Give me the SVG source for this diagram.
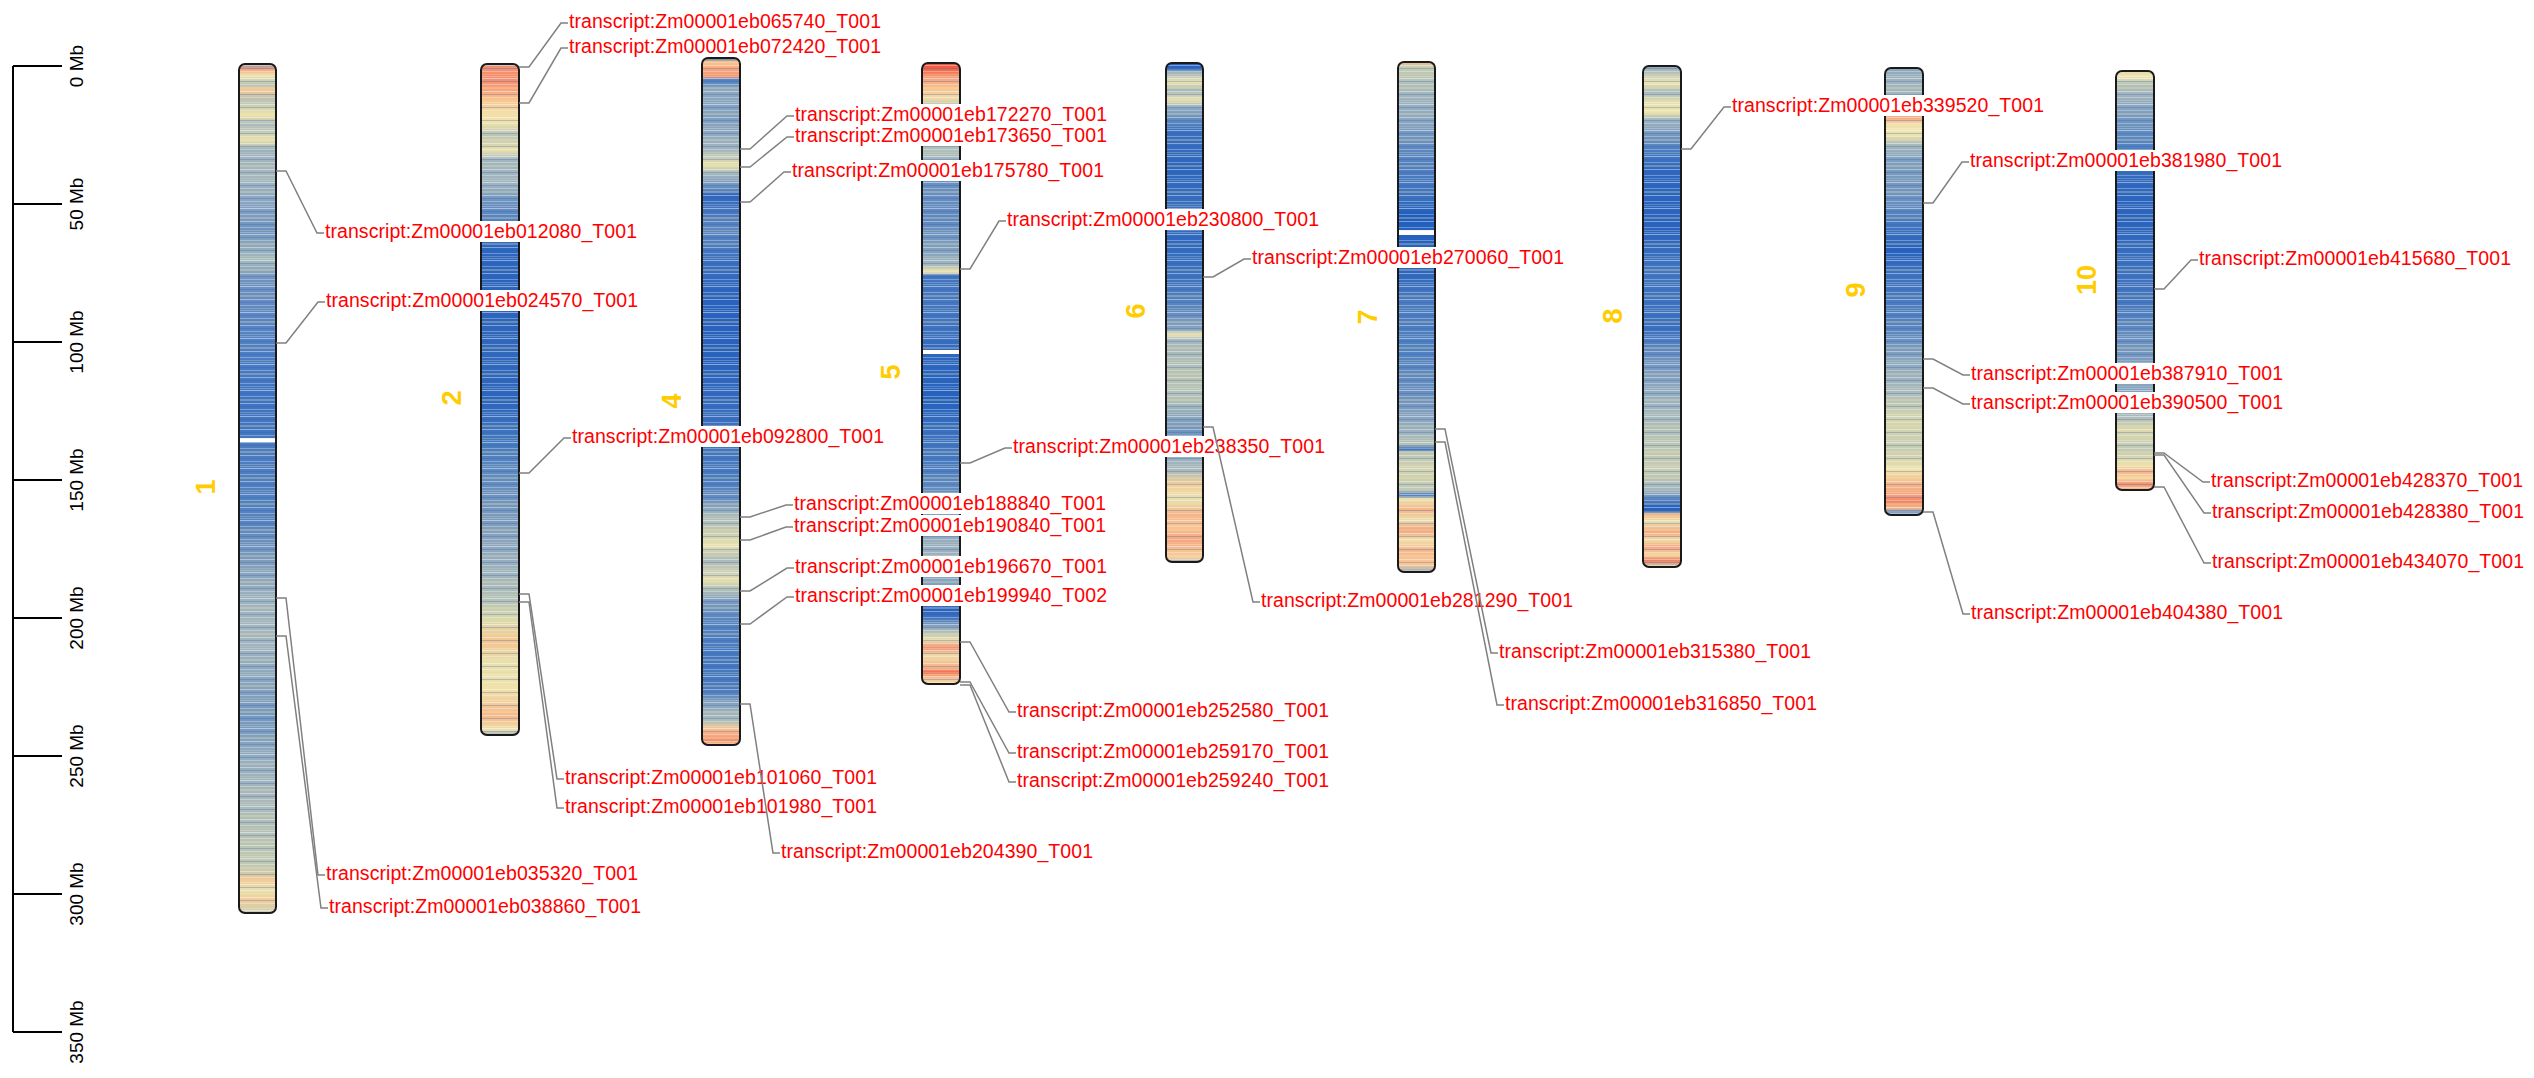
<svg xmlns="http://www.w3.org/2000/svg" width="2534" height="1078" viewBox="0 0 2534 1078">
<style>
.lbl{font-family:"Liberation Sans",Arial,sans-serif;font-size:19.5px;fill:#ff0000}
.box{fill:#ffffff}
.conn{fill:none;stroke:#808080;stroke-width:1.5}
.chrnum{font-family:"Liberation Sans",Arial,sans-serif;font-size:27px;font-weight:bold;fill:#ffcc00}
.axis{fill:none;stroke:#000;stroke-width:2}
.tick{font-family:"Liberation Sans",Arial,sans-serif;font-size:19px;fill:#000}
.outline{fill:none;stroke:#1a1a1a;stroke-width:2}
</style>
<defs>
<pattern id="stripes" patternUnits="userSpaceOnUse" x="0" y="0" width="40" height="26">
<rect y="0" width="40" height="1" fill="#fff" opacity="0.45"/>
<rect y="3" width="40" height="1" fill="#2a5fb5" opacity="0.3"/>
<rect y="6" width="40" height="1" fill="#fff" opacity="0.3"/>
<rect y="9" width="40" height="2" fill="#efe6ae" opacity="0.3"/>
<rect y="13" width="40" height="1" fill="#fff" opacity="0.4"/>
<rect y="16" width="40" height="1" fill="#3062b0" opacity="0.3"/>
<rect y="19" width="40" height="1" fill="#fff" opacity="0.3"/>
<rect y="22" width="40" height="1" fill="#dcd8b0" opacity="0.3"/>
<rect y="24" width="40" height="1" fill="#fff" opacity="0.25"/>
</pattern>
<linearGradient id="g1" gradientUnits="userSpaceOnUse" x1="0" y1="0" x2="0" y2="1000">
<stop offset="0.064" stop-color="#7f9ab8"/><stop offset="0.069" stop-color="#f7a07c"/><stop offset="0.075" stop-color="#f1e3ac"/><stop offset="0.085" stop-color="#b9c3b3"/><stop offset="0.090" stop-color="#f6c894"/><stop offset="0.100" stop-color="#b5c1b6"/><stop offset="0.115" stop-color="#eee3aa"/><stop offset="0.125" stop-color="#a9b9bd"/><stop offset="0.140" stop-color="#e9e2ae"/><stop offset="0.150" stop-color="#9cb1c0"/><stop offset="0.175" stop-color="#a8b9bc"/><stop offset="0.200" stop-color="#8aa6c2"/><stop offset="0.230" stop-color="#6f93c0"/><stop offset="0.260" stop-color="#a8bbbc"/><stop offset="0.280" stop-color="#6f92c0"/><stop offset="0.320" stop-color="#5a85c3"/><stop offset="0.360" stop-color="#4a7cc3"/><stop offset="0.400" stop-color="#3f73c2"/><stop offset="0.438" stop-color="#4477c0"/><stop offset="0.4385" stop-color="#ffffff"/><stop offset="0.4415" stop-color="#ffffff"/><stop offset="0.442" stop-color="#4a7bc0"/><stop offset="0.520" stop-color="#5583c0"/><stop offset="0.560" stop-color="#7d9bbd"/><stop offset="0.600" stop-color="#9fb3bf"/><stop offset="0.640" stop-color="#a4b6bd"/><stop offset="0.680" stop-color="#8aa5bf"/><stop offset="0.720" stop-color="#7397be"/><stop offset="0.760" stop-color="#95adbf"/><stop offset="0.800" stop-color="#a9b9bb"/><stop offset="0.840" stop-color="#b8c3b5"/><stop offset="0.870" stop-color="#c5cab0"/><stop offset="0.880" stop-color="#f4c996"/><stop offset="0.890" stop-color="#e7e1b0"/><stop offset="0.900" stop-color="#f3cc98"/><stop offset="0.913" stop-color="#c8cdb3"/>
</linearGradient>
<linearGradient id="g2" gradientUnits="userSpaceOnUse" x1="0" y1="0" x2="0" y2="1000">
<stop offset="0.064" stop-color="#8aa2b8"/><stop offset="0.067" stop-color="#f6906e"/><stop offset="0.080" stop-color="#f58f6f"/><stop offset="0.090" stop-color="#f8a47d"/><stop offset="0.100" stop-color="#fac58e"/><stop offset="0.112" stop-color="#f4dca6"/><stop offset="0.122" stop-color="#f0e3ab"/><stop offset="0.135" stop-color="#bac4b5"/><stop offset="0.150" stop-color="#e9e0ac"/><stop offset="0.160" stop-color="#a3b6bf"/><stop offset="0.185" stop-color="#9fb4bf"/><stop offset="0.200" stop-color="#6f95c0"/><stop offset="0.215" stop-color="#5b86c0"/><stop offset="0.245" stop-color="#2e67bf"/><stop offset="0.300" stop-color="#2a63bd"/><stop offset="0.350" stop-color="#3169bd"/><stop offset="0.400" stop-color="#2c65bd"/><stop offset="0.440" stop-color="#4378bf"/><stop offset="0.470" stop-color="#5d89c0"/><stop offset="0.520" stop-color="#7c9bbd"/><stop offset="0.560" stop-color="#95adbf"/><stop offset="0.600" stop-color="#b4c1b6"/><stop offset="0.620" stop-color="#dcdbac"/><stop offset="0.643" stop-color="#f4c48f"/><stop offset="0.660" stop-color="#e6dfad"/><stop offset="0.690" stop-color="#f0e1a9"/><stop offset="0.716" stop-color="#f6b88a"/><stop offset="0.730" stop-color="#efe2ac"/><stop offset="0.735" stop-color="#9fb4c3"/>
</linearGradient>
<linearGradient id="g4" gradientUnits="userSpaceOnUse" x1="0" y1="0" x2="0" y2="1000">
<stop offset="0.058" stop-color="#3c6fb8"/><stop offset="0.062" stop-color="#fbc490"/><stop offset="0.070" stop-color="#f8a27c"/><stop offset="0.076" stop-color="#f79a76"/><stop offset="0.080" stop-color="#4f7fbf"/><stop offset="0.090" stop-color="#8ea9c0"/><stop offset="0.120" stop-color="#7f9fc0"/><stop offset="0.150" stop-color="#a2b5bd"/><stop offset="0.165" stop-color="#e8e0ad"/><stop offset="0.175" stop-color="#9db2bf"/><stop offset="0.190" stop-color="#5a85c0"/><stop offset="0.195" stop-color="#2e65bf"/><stop offset="0.230" stop-color="#5e88c0"/><stop offset="0.260" stop-color="#3a70c0"/><stop offset="0.300" stop-color="#2a63bf"/><stop offset="0.360" stop-color="#2863be"/><stop offset="0.420" stop-color="#3a6fc0"/><stop offset="0.480" stop-color="#4a7cc0"/><stop offset="0.500" stop-color="#6a90c0"/><stop offset="0.515" stop-color="#a9b9ba"/><stop offset="0.530" stop-color="#c2c9b2"/><stop offset="0.545" stop-color="#e9e1ad"/><stop offset="0.560" stop-color="#a9b8bb"/><stop offset="0.580" stop-color="#e3deae"/><stop offset="0.600" stop-color="#7f9ebf"/><stop offset="0.620" stop-color="#5985c0"/><stop offset="0.660" stop-color="#4477c0"/><stop offset="0.690" stop-color="#4a7bc0"/><stop offset="0.705" stop-color="#8aa6bf"/><stop offset="0.722" stop-color="#b1bfb8"/><stop offset="0.728" stop-color="#f7c390"/><stop offset="0.735" stop-color="#f7a880"/><stop offset="0.741" stop-color="#f08c6c"/><stop offset="0.745" stop-color="#f3e3ad"/>
</linearGradient>
<linearGradient id="g5" gradientUnits="userSpaceOnUse" x1="0" y1="0" x2="0" y2="1000">
<stop offset="0.063" stop-color="#ee4d3b"/><stop offset="0.070" stop-color="#f26a4b"/><stop offset="0.078" stop-color="#f7a07b"/><stop offset="0.088" stop-color="#f9c08c"/><stop offset="0.098" stop-color="#f2dca7"/><stop offset="0.105" stop-color="#bcc6b4"/><stop offset="0.130" stop-color="#a5b7bd"/><stop offset="0.150" stop-color="#b2c0b8"/><stop offset="0.165" stop-color="#96adc0"/><stop offset="0.180" stop-color="#6d92c0"/><stop offset="0.220" stop-color="#5d88c0"/><stop offset="0.255" stop-color="#8aa6bf"/><stop offset="0.265" stop-color="#a9b9ba"/><stop offset="0.272" stop-color="#f0e6b0"/><stop offset="0.276" stop-color="#3f74c0"/><stop offset="0.300" stop-color="#4779c0"/><stop offset="0.340" stop-color="#3a70c0"/><stop offset="0.350" stop-color="#2e68c0"/><stop offset="0.3505" stop-color="#ffffff"/><stop offset="0.3535" stop-color="#ffffff"/><stop offset="0.354" stop-color="#2e68c0"/><stop offset="0.400" stop-color="#2462bf"/><stop offset="0.430" stop-color="#3a70c0"/><stop offset="0.470" stop-color="#4d7ec0"/><stop offset="0.520" stop-color="#8aa5bf"/><stop offset="0.560" stop-color="#9fb3be"/><stop offset="0.590" stop-color="#7a9bbf"/><stop offset="0.610" stop-color="#2862c0"/><stop offset="0.618" stop-color="#3f74bf"/><stop offset="0.630" stop-color="#a5b6bc"/><stop offset="0.640" stop-color="#e9e0ac"/><stop offset="0.648" stop-color="#f38d6f"/><stop offset="0.655" stop-color="#f0dba6"/><stop offset="0.668" stop-color="#f6b185"/><stop offset="0.672" stop-color="#f06e52"/><stop offset="0.678" stop-color="#f9c28e"/><stop offset="0.684" stop-color="#f3dfaa"/>
</linearGradient>
<linearGradient id="g6" gradientUnits="userSpaceOnUse" x1="0" y1="0" x2="0" y2="1000">
<stop offset="0.063" stop-color="#1e5cbd"/><stop offset="0.068" stop-color="#2e66bd"/><stop offset="0.072" stop-color="#9bb1bf"/><stop offset="0.082" stop-color="#eee4ac"/><stop offset="0.090" stop-color="#a4b7bd"/><stop offset="0.100" stop-color="#e9e1ae"/><stop offset="0.108" stop-color="#8ea9c0"/><stop offset="0.130" stop-color="#3a70bf"/><stop offset="0.170" stop-color="#2c66be"/><stop offset="0.210" stop-color="#3b71bf"/><stop offset="0.240" stop-color="#2e68c0"/><stop offset="0.280" stop-color="#3f74bf"/><stop offset="0.310" stop-color="#5d88bf"/><stop offset="0.330" stop-color="#8ba6bf"/><stop offset="0.334" stop-color="#eee6b2"/><stop offset="0.340" stop-color="#a6b7bb"/><stop offset="0.380" stop-color="#b8c3b4"/><stop offset="0.400" stop-color="#b0bfb8"/><stop offset="0.430" stop-color="#6e93be"/><stop offset="0.450" stop-color="#8da8bf"/><stop offset="0.470" stop-color="#a9b9bb"/><stop offset="0.485" stop-color="#f4cf9a"/><stop offset="0.500" stop-color="#e8e0ae"/><stop offset="0.515" stop-color="#f6b386"/><stop offset="0.525" stop-color="#f9c694"/><stop offset="0.540" stop-color="#f6a57e"/><stop offset="0.550" stop-color="#f8c18f"/><stop offset="0.558" stop-color="#f9cfa0"/><stop offset="0.562" stop-color="#7a9bc2"/>
</linearGradient>
<linearGradient id="g7" gradientUnits="userSpaceOnUse" x1="0" y1="0" x2="0" y2="1000">
<stop offset="0.062" stop-color="#f6b186"/><stop offset="0.066" stop-color="#c9cdb1"/><stop offset="0.080" stop-color="#b6c2b6"/><stop offset="0.095" stop-color="#a2b5bd"/><stop offset="0.120" stop-color="#8ba6c0"/><stop offset="0.150" stop-color="#5d88c0"/><stop offset="0.200" stop-color="#3a70c0"/><stop offset="0.215" stop-color="#1e5dbe"/><stop offset="0.230" stop-color="#2462bf"/><stop offset="0.2305" stop-color="#ffffff"/><stop offset="0.2345" stop-color="#ffffff"/><stop offset="0.235" stop-color="#2462bf"/><stop offset="0.270" stop-color="#2b65bf"/><stop offset="0.300" stop-color="#4a7bc0"/><stop offset="0.350" stop-color="#4f80c0"/><stop offset="0.400" stop-color="#7093bf"/><stop offset="0.430" stop-color="#9ab0bf"/><stop offset="0.445" stop-color="#b8c3b6"/><stop offset="0.449" stop-color="#2c66bf"/><stop offset="0.452" stop-color="#b8c3b5"/><stop offset="0.470" stop-color="#d4d5ae"/><stop offset="0.490" stop-color="#c0c8b4"/><stop offset="0.495" stop-color="#3c71bf"/><stop offset="0.498" stop-color="#eae3b0"/><stop offset="0.510" stop-color="#f6b486"/><stop offset="0.520" stop-color="#e9e0ac"/><stop offset="0.530" stop-color="#f4a37d"/><stop offset="0.540" stop-color="#f1dfa9"/><stop offset="0.550" stop-color="#f7b78a"/><stop offset="0.565" stop-color="#f9c796"/><stop offset="0.572" stop-color="#8ba6c0"/>
</linearGradient>
<linearGradient id="g8" gradientUnits="userSpaceOnUse" x1="0" y1="0" x2="0" y2="1000">
<stop offset="0.066" stop-color="#8fa6bd"/><stop offset="0.072" stop-color="#b2bfb8"/><stop offset="0.083" stop-color="#eee5ae"/><stop offset="0.092" stop-color="#a5b7bd"/><stop offset="0.102" stop-color="#e6e0ae"/><stop offset="0.112" stop-color="#ece3ad"/><stop offset="0.120" stop-color="#9fb3bf"/><stop offset="0.150" stop-color="#4a7cc0"/><stop offset="0.170" stop-color="#2e67bf"/><stop offset="0.230" stop-color="#2a63bf"/><stop offset="0.270" stop-color="#4276c0"/><stop offset="0.330" stop-color="#3a70c0"/><stop offset="0.360" stop-color="#6f93c0"/><stop offset="0.400" stop-color="#9bb1bf"/><stop offset="0.440" stop-color="#b9c4b5"/><stop offset="0.470" stop-color="#c8ccb1"/><stop offset="0.490" stop-color="#a3b6bd"/><stop offset="0.505" stop-color="#2c66bf"/><stop offset="0.510" stop-color="#2260bf"/><stop offset="0.515" stop-color="#f9c08c"/><stop offset="0.522" stop-color="#e6dfac"/><stop offset="0.532" stop-color="#f6a882"/><stop offset="0.540" stop-color="#f0ddaa"/><stop offset="0.547" stop-color="#f7a37d"/><stop offset="0.555" stop-color="#f3d8a4"/><stop offset="0.560" stop-color="#f07b5e"/><stop offset="0.567" stop-color="#d0d3b3"/>
</linearGradient>
<linearGradient id="g9" gradientUnits="userSpaceOnUse" x1="0" y1="0" x2="0" y2="1000">
<stop offset="0.068" stop-color="#8aa4bf"/><stop offset="0.078" stop-color="#9eb2be"/><stop offset="0.095" stop-color="#a3b6bd"/><stop offset="0.110" stop-color="#f8c794"/><stop offset="0.118" stop-color="#f7a883"/><stop offset="0.125" stop-color="#f1e3ab"/><stop offset="0.135" stop-color="#eee3ab"/><stop offset="0.145" stop-color="#a7b8bc"/><stop offset="0.160" stop-color="#7f9fc0"/><stop offset="0.200" stop-color="#6c92c0"/><stop offset="0.230" stop-color="#3b71c0"/><stop offset="0.250" stop-color="#2561bf"/><stop offset="0.270" stop-color="#3a70c0"/><stop offset="0.330" stop-color="#5a86c0"/><stop offset="0.360" stop-color="#8aa6bf"/><stop offset="0.390" stop-color="#a8b9bb"/><stop offset="0.420" stop-color="#d6d6ae"/><stop offset="0.450" stop-color="#c6cbb2"/><stop offset="0.470" stop-color="#efe3ab"/><stop offset="0.485" stop-color="#f7b488"/><stop offset="0.495" stop-color="#f6a17c"/><stop offset="0.502" stop-color="#f28462"/><stop offset="0.508" stop-color="#f7b98b"/><stop offset="0.512" stop-color="#80a0c6"/><stop offset="0.515" stop-color="#80a0c6"/>
</linearGradient>
<linearGradient id="g10" gradientUnits="userSpaceOnUse" x1="0" y1="0" x2="0" y2="1000">
<stop offset="0.071" stop-color="#ddd7ae"/><stop offset="0.076" stop-color="#f2e6b0"/><stop offset="0.085" stop-color="#b3c0b7"/><stop offset="0.095" stop-color="#a1b4be"/><stop offset="0.115" stop-color="#7a9bc0"/><stop offset="0.140" stop-color="#5886c0"/><stop offset="0.180" stop-color="#2f68bf"/><stop offset="0.220" stop-color="#2a64bf"/><stop offset="0.260" stop-color="#3a70c0"/><stop offset="0.300" stop-color="#4577c0"/><stop offset="0.340" stop-color="#6990c0"/><stop offset="0.380" stop-color="#8ca7bf"/><stop offset="0.395" stop-color="#7f9fc0"/><stop offset="0.415" stop-color="#a8b8bb"/><stop offset="0.430" stop-color="#dcd9ad"/><stop offset="0.450" stop-color="#c1c8b3"/><stop offset="0.465" stop-color="#eee2ab"/><stop offset="0.472" stop-color="#f7b487"/><stop offset="0.478" stop-color="#f6d9a2"/><stop offset="0.484" stop-color="#f3906f"/><stop offset="0.490" stop-color="#f7c896"/>
</linearGradient>
</defs>
<rect width="2534" height="1078" fill="#ffffff"/>
<g id="scale-axis">
<path class="axis" d="M13 66V1032M13 66H62M13 204H62M13 342H62M13 480H62M13 618H62M13 756H62M13 894H62M13 1032H62"/>
<text class="tick" text-anchor="middle" transform="translate(83,66) rotate(-90)">0 Mb</text>
<text class="tick" text-anchor="middle" transform="translate(83,204) rotate(-90)">50 Mb</text>
<text class="tick" text-anchor="middle" transform="translate(83,342) rotate(-90)">100 Mb</text>
<text class="tick" text-anchor="middle" transform="translate(83,480) rotate(-90)">150 Mb</text>
<text class="tick" text-anchor="middle" transform="translate(83,618) rotate(-90)">200 Mb</text>
<text class="tick" text-anchor="middle" transform="translate(83,756) rotate(-90)">250 Mb</text>
<text class="tick" text-anchor="middle" transform="translate(83,894) rotate(-90)">300 Mb</text>
<text class="tick" text-anchor="middle" transform="translate(83,1032) rotate(-90)">350 Mb</text>
</g>
<g id="chr1">
<rect x="239" y="64" width="37" height="849" rx="6" fill="url(#g1)"/>
<rect x="239" y="64" width="37" height="849" rx="6" fill="url(#stripes)"/>
<rect class="outline" x="239" y="64" width="37" height="849" rx="6"/>
<text class="chrnum" text-anchor="middle" transform="translate(215,487) rotate(-90)">1</text>
</g>
<g id="chr2">
<rect x="481" y="64" width="38" height="671" rx="6" fill="url(#g2)"/>
<rect x="481" y="64" width="38" height="671" rx="6" fill="url(#stripes)"/>
<rect class="outline" x="481" y="64" width="38" height="671" rx="6"/>
<text class="chrnum" text-anchor="middle" transform="translate(461,398) rotate(-90)">2</text>
</g>
<g id="chr4">
<rect x="702" y="58" width="38" height="687" rx="6" fill="url(#g4)"/>
<rect x="702" y="58" width="38" height="687" rx="6" fill="url(#stripes)"/>
<rect class="outline" x="702" y="58" width="38" height="687" rx="6"/>
<text class="chrnum" text-anchor="middle" transform="translate(681,401) rotate(-90)">4</text>
</g>
<g id="chr5">
<rect x="922" y="63" width="38" height="621" rx="6" fill="url(#g5)"/>
<rect x="922" y="63" width="38" height="621" rx="6" fill="url(#stripes)"/>
<rect class="outline" x="922" y="63" width="38" height="621" rx="6"/>
<text class="chrnum" text-anchor="middle" transform="translate(900,372) rotate(-90)">5</text>
</g>
<g id="chr6">
<rect x="1166" y="63" width="37" height="499" rx="6" fill="url(#g6)"/>
<rect x="1166" y="63" width="37" height="499" rx="6" fill="url(#stripes)"/>
<rect class="outline" x="1166" y="63" width="37" height="499" rx="6"/>
<text class="chrnum" text-anchor="middle" transform="translate(1145,311) rotate(-90)">6</text>
</g>
<g id="chr7">
<rect x="1398" y="62" width="37" height="510" rx="6" fill="url(#g7)"/>
<rect x="1398" y="62" width="37" height="510" rx="6" fill="url(#stripes)"/>
<rect class="outline" x="1398" y="62" width="37" height="510" rx="6"/>
<text class="chrnum" text-anchor="middle" transform="translate(1377,317) rotate(-90)">7</text>
</g>
<g id="chr8">
<rect x="1643" y="66" width="38" height="501" rx="6" fill="url(#g8)"/>
<rect x="1643" y="66" width="38" height="501" rx="6" fill="url(#stripes)"/>
<rect class="outline" x="1643" y="66" width="38" height="501" rx="6"/>
<text class="chrnum" text-anchor="middle" transform="translate(1622,316) rotate(-90)">8</text>
</g>
<g id="chr9">
<rect x="1885" y="68" width="38" height="447" rx="6" fill="url(#g9)"/>
<rect x="1885" y="68" width="38" height="447" rx="6" fill="url(#stripes)"/>
<rect class="outline" x="1885" y="68" width="38" height="447" rx="6"/>
<text class="chrnum" text-anchor="middle" transform="translate(1865,290) rotate(-90)">9</text>
</g>
<g id="chr10">
<rect x="2116" y="71" width="38" height="419" rx="6" fill="url(#g10)"/>
<rect x="2116" y="71" width="38" height="419" rx="6" fill="url(#stripes)"/>
<rect class="outline" x="2116" y="71" width="38" height="419" rx="6"/>
<text class="chrnum" text-anchor="middle" transform="translate(2096,280) rotate(-90)">10</text>
</g>
<g id="labels">
<g id="lbl-012080"><rect class="box" x="324" y="221" width="315" height="21"/><text class="lbl" x="325" y="238" textLength="312" lengthAdjust="spacing">transcript:Zm00001eb012080_T001</text></g>
<g id="lbl-024570"><rect class="box" x="325" y="290" width="315" height="21"/><text class="lbl" x="326" y="307" textLength="312" lengthAdjust="spacing">transcript:Zm00001eb024570_T001</text></g>
<g id="lbl-035320"><rect class="box" x="325" y="863" width="315" height="21"/><text class="lbl" x="326" y="880" textLength="312" lengthAdjust="spacing">transcript:Zm00001eb035320_T001</text></g>
<g id="lbl-038860"><rect class="box" x="328" y="896" width="315" height="21"/><text class="lbl" x="329" y="913" textLength="312" lengthAdjust="spacing">transcript:Zm00001eb038860_T001</text></g>
<g id="lbl-065740"><rect class="box" x="568" y="11" width="315" height="21"/><text class="lbl" x="569" y="28" textLength="312" lengthAdjust="spacing">transcript:Zm00001eb065740_T001</text></g>
<g id="lbl-072420"><rect class="box" x="568" y="36" width="315" height="21"/><text class="lbl" x="569" y="53" textLength="312" lengthAdjust="spacing">transcript:Zm00001eb072420_T001</text></g>
<g id="lbl-092800"><rect class="box" x="571" y="426" width="315" height="21"/><text class="lbl" x="572" y="443" textLength="312" lengthAdjust="spacing">transcript:Zm00001eb092800_T001</text></g>
<g id="lbl-101060"><rect class="box" x="564" y="767" width="315" height="21"/><text class="lbl" x="565" y="784" textLength="312" lengthAdjust="spacing">transcript:Zm00001eb101060_T001</text></g>
<g id="lbl-101980"><rect class="box" x="564" y="796" width="315" height="21"/><text class="lbl" x="565" y="813" textLength="312" lengthAdjust="spacing">transcript:Zm00001eb101980_T001</text></g>
<g id="lbl-172270"><rect class="box" x="794" y="104" width="315" height="21"/><text class="lbl" x="795" y="121" textLength="312" lengthAdjust="spacing">transcript:Zm00001eb172270_T001</text></g>
<g id="lbl-173650"><rect class="box" x="794" y="125" width="315" height="21"/><text class="lbl" x="795" y="142" textLength="312" lengthAdjust="spacing">transcript:Zm00001eb173650_T001</text></g>
<g id="lbl-175780"><rect class="box" x="791" y="160" width="315" height="21"/><text class="lbl" x="792" y="177" textLength="312" lengthAdjust="spacing">transcript:Zm00001eb175780_T001</text></g>
<g id="lbl-188840"><rect class="box" x="793" y="493" width="315" height="21"/><text class="lbl" x="794" y="510" textLength="312" lengthAdjust="spacing">transcript:Zm00001eb188840_T001</text></g>
<g id="lbl-190840"><rect class="box" x="793" y="515" width="315" height="21"/><text class="lbl" x="794" y="532" textLength="312" lengthAdjust="spacing">transcript:Zm00001eb190840_T001</text></g>
<g id="lbl-196670"><rect class="box" x="794" y="556" width="315" height="21"/><text class="lbl" x="795" y="573" textLength="312" lengthAdjust="spacing">transcript:Zm00001eb196670_T001</text></g>
<g id="lbl-199940"><rect class="box" x="794" y="585" width="315" height="21"/><text class="lbl" x="795" y="602" textLength="312" lengthAdjust="spacing">transcript:Zm00001eb199940_T002</text></g>
<g id="lbl-204390"><rect class="box" x="780" y="841" width="315" height="21"/><text class="lbl" x="781" y="858" textLength="312" lengthAdjust="spacing">transcript:Zm00001eb204390_T001</text></g>
<g id="lbl-230800"><rect class="box" x="1006" y="209" width="315" height="21"/><text class="lbl" x="1007" y="226" textLength="312" lengthAdjust="spacing">transcript:Zm00001eb230800_T001</text></g>
<g id="lbl-238350"><rect class="box" x="1012" y="436" width="315" height="21"/><text class="lbl" x="1013" y="453" textLength="312" lengthAdjust="spacing">transcript:Zm00001eb238350_T001</text></g>
<g id="lbl-252580"><rect class="box" x="1016" y="700" width="315" height="21"/><text class="lbl" x="1017" y="717" textLength="312" lengthAdjust="spacing">transcript:Zm00001eb252580_T001</text></g>
<g id="lbl-259170"><rect class="box" x="1016" y="741" width="315" height="21"/><text class="lbl" x="1017" y="758" textLength="312" lengthAdjust="spacing">transcript:Zm00001eb259170_T001</text></g>
<g id="lbl-259240"><rect class="box" x="1016" y="770" width="315" height="21"/><text class="lbl" x="1017" y="787" textLength="312" lengthAdjust="spacing">transcript:Zm00001eb259240_T001</text></g>
<g id="lbl-270060"><rect class="box" x="1251" y="247" width="315" height="21"/><text class="lbl" x="1252" y="264" textLength="312" lengthAdjust="spacing">transcript:Zm00001eb270060_T001</text></g>
<g id="lbl-281290"><rect class="box" x="1260" y="590" width="315" height="21"/><text class="lbl" x="1261" y="607" textLength="312" lengthAdjust="spacing">transcript:Zm00001eb281290_T001</text></g>
<g id="lbl-315380"><rect class="box" x="1498" y="641" width="315" height="21"/><text class="lbl" x="1499" y="658" textLength="312" lengthAdjust="spacing">transcript:Zm00001eb315380_T001</text></g>
<g id="lbl-316850"><rect class="box" x="1504" y="693" width="315" height="21"/><text class="lbl" x="1505" y="710" textLength="312" lengthAdjust="spacing">transcript:Zm00001eb316850_T001</text></g>
<g id="lbl-339520"><rect class="box" x="1731" y="95" width="315" height="21"/><text class="lbl" x="1732" y="112" textLength="312" lengthAdjust="spacing">transcript:Zm00001eb339520_T001</text></g>
<g id="lbl-381980"><rect class="box" x="1969" y="150" width="315" height="21"/><text class="lbl" x="1970" y="167" textLength="312" lengthAdjust="spacing">transcript:Zm00001eb381980_T001</text></g>
<g id="lbl-387910"><rect class="box" x="1970" y="363" width="315" height="21"/><text class="lbl" x="1971" y="380" textLength="312" lengthAdjust="spacing">transcript:Zm00001eb387910_T001</text></g>
<g id="lbl-390500"><rect class="box" x="1970" y="392" width="315" height="21"/><text class="lbl" x="1971" y="409" textLength="312" lengthAdjust="spacing">transcript:Zm00001eb390500_T001</text></g>
<g id="lbl-404380"><rect class="box" x="1970" y="602" width="315" height="21"/><text class="lbl" x="1971" y="619" textLength="312" lengthAdjust="spacing">transcript:Zm00001eb404380_T001</text></g>
<g id="lbl-415680"><rect class="box" x="2198" y="248" width="315" height="21"/><text class="lbl" x="2199" y="265" textLength="312" lengthAdjust="spacing">transcript:Zm00001eb415680_T001</text></g>
<g id="lbl-428370"><rect class="box" x="2210" y="470" width="315" height="21"/><text class="lbl" x="2211" y="487" textLength="312" lengthAdjust="spacing">transcript:Zm00001eb428370_T001</text></g>
<g id="lbl-428380"><rect class="box" x="2211" y="501" width="315" height="21"/><text class="lbl" x="2212" y="518" textLength="312" lengthAdjust="spacing">transcript:Zm00001eb428380_T001</text></g>
<g id="lbl-434070"><rect class="box" x="2211" y="551" width="315" height="21"/><text class="lbl" x="2212" y="568" textLength="312" lengthAdjust="spacing">transcript:Zm00001eb434070_T001</text></g>
</g>
<g id="connectors">
<path class="conn" d="M276 171H286L317 233H324"/>
<path class="conn" d="M276 343H286L318 302H325"/>
<path class="conn" d="M276 598H286L318 875H325"/>
<path class="conn" d="M276 636H286L321 908H328"/>
<path class="conn" d="M519 67H529L561 23H568"/>
<path class="conn" d="M519 103H529L561 48H568"/>
<path class="conn" d="M519 473H529L564 438H571"/>
<path class="conn" d="M519 594H529L557 779H564"/>
<path class="conn" d="M519 602H529L557 808H564"/>
<path class="conn" d="M740 149H750L787 116H794"/>
<path class="conn" d="M740 167H750L787 137H794"/>
<path class="conn" d="M740 202H750L784 172H791"/>
<path class="conn" d="M740 517H750L786 505H793"/>
<path class="conn" d="M740 540H750L786 527H793"/>
<path class="conn" d="M740 591H750L787 568H794"/>
<path class="conn" d="M740 624H750L787 597H794"/>
<path class="conn" d="M740 704H750L773 853H780"/>
<path class="conn" d="M960 269H970L999 221H1006"/>
<path class="conn" d="M960 463H970L1005 448H1012"/>
<path class="conn" d="M960 642H970L1009 712H1016"/>
<path class="conn" d="M960 682H970L1009 753H1016"/>
<path class="conn" d="M960 685H970L1009 782H1016"/>
<path class="conn" d="M1203 277H1213L1244 259H1251"/>
<path class="conn" d="M1203 427H1213L1253 602H1260"/>
<path class="conn" d="M1435 429H1445L1491 653H1498"/>
<path class="conn" d="M1435 442H1445L1497 705H1504"/>
<path class="conn" d="M1681 149H1691L1724 107H1731"/>
<path class="conn" d="M1923 203H1933L1962 162H1969"/>
<path class="conn" d="M1923 359H1933L1963 375H1970"/>
<path class="conn" d="M1923 388H1933L1963 404H1970"/>
<path class="conn" d="M1923 512H1933L1963 614H1970"/>
<path class="conn" d="M2154 289H2164L2191 260H2198"/>
<path class="conn" d="M2154 453H2164L2203 482H2210"/>
<path class="conn" d="M2154 455H2164L2204 513H2211"/>
<path class="conn" d="M2154 487H2164L2204 563H2211"/>
</g>
</svg>
